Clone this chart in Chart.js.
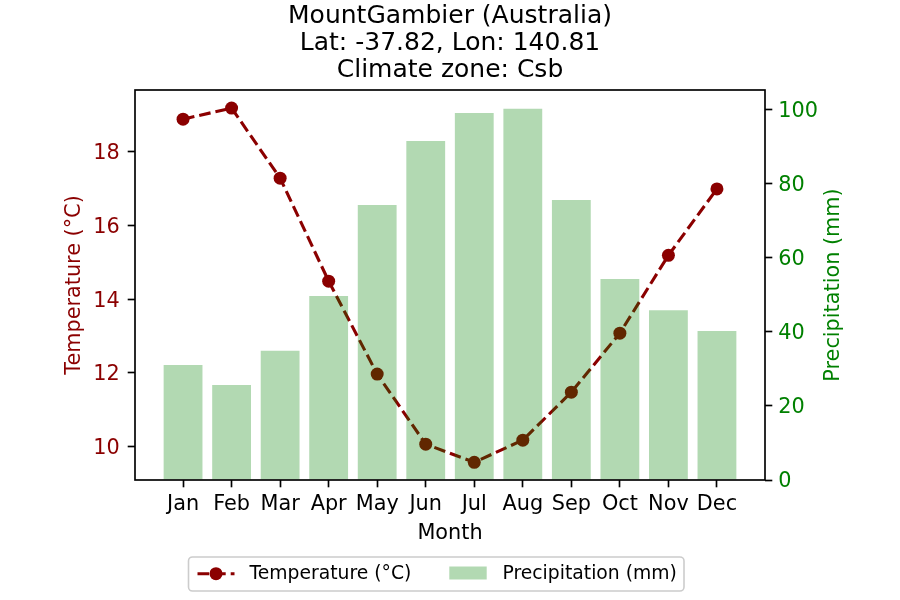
<!DOCTYPE html>
<html>
<head>
<meta charset="utf-8">
<script src="https://cdn.jsdelivr.net/npm/chart.js@4.4.1/dist/chart.umd.min.js"></script>
<style>
html,body{margin:0;padding:0;background:#ffffff;}
canvas{display:block;}
</style>
</head>
<body>
<canvas id="c" width="900" height="600"></canvas>
<script>
// ---- data ----
const months = ['Jan','Feb','Mar','Apr','May','Jun','Jul','Aug','Sep','Oct','Nov','Dec'];
const temperature = [18.88, 19.18, 17.28, 14.49, 11.97, 10.07, 9.58, 10.18, 11.48, 13.08, 15.19, 16.99];
const precipitation = [31.1, 25.7, 34.9, 49.7, 74.3, 91.6, 99.2, 100.3, 75.7, 54.3, 45.9, 40.3];
const tempTicks = [10, 12, 14, 16, 18];
const precipTicks = [0, 20, 40, 60, 80, 100];
const titleLines = ['MountGambier (Australia)', 'Lat: -37.82, Lon: 140.81', 'Climate zone: Csb'];
const tempLabel = 'Temperature (°C)';
const precipLabel = 'Precipitation (mm)';
const xLabel = 'Month';

// ---- styles ----
const FAM = '"DejaVu Sans", sans-serif';
const tickFont = {family: FAM, size: 20.8, lineHeight: 1.2};
const DARKRED = '#8b0000';
const GREEN = '#008000';
const BARCOL = 'rgba(0,128,0,0.3)';
const DASH = [11.6, 5];
Chart.defaults.color = '#000';
Chart.defaults.font.family = FAM;

const monthIndex = months.map((m, i) => i);

const framePlugin = {
  id: 'frameAndLegend',
  afterDraw(chart) {
    const ctx = chart.ctx;
    const a = chart.chartArea;
    ctx.save();
    // axes frame
    ctx.strokeStyle = '#000';
    ctx.lineWidth = 1.67;
    ctx.strokeRect(a.left, a.top, a.right - a.left, a.bottom - a.top);
    // right axis title (reads bottom-to-top)
    ctx.save();
    ctx.fillStyle = GREEN;
    ctx.font = '20.8px ' + FAM;
    ctx.textAlign = 'center';
    ctx.textBaseline = 'middle';
    ctx.translate(chart.scales.y1.right - 66.2, (a.top + a.bottom) / 2);
    ctx.rotate(-Math.PI / 2);
    ctx.fillText(precipLabel, 0, 0);
    ctx.restore();
    // legend
    const lx = 188.5, ly = 557, lw = 495.5, lh = 34, r = 4;
    ctx.beginPath();
    ctx.roundRect(lx, ly, lw, lh, r);
    ctx.fillStyle = 'rgba(255,255,255,0.8)';
    ctx.fill();
    ctx.strokeStyle = '#cccccc';
    ctx.lineWidth = 1.6;
    ctx.stroke();
    const cy = 573.7;
    // temperature handle
    ctx.beginPath();
    ctx.setLineDash(DASH);
    ctx.strokeStyle = DARKRED;
    ctx.lineWidth = 3.1;
    ctx.moveTo(197.5, cy);
    ctx.lineTo(234.5, cy);
    ctx.stroke();
    ctx.setLineDash([]);
    ctx.beginPath();
    ctx.arc(216, cy, 6.5, 0, Math.PI * 2);
    ctx.fillStyle = DARKRED;
    ctx.fill();
    ctx.font = '18.75px ' + FAM;
    ctx.textAlign = 'left';
    ctx.textBaseline = 'middle';
    ctx.fillStyle = '#000';
    ctx.fillText(tempLabel, 249.5, cy);
    // precipitation handle
    ctx.fillStyle = BARCOL;
    ctx.fillRect(449.3, 566.5, 37.4, 13);
    ctx.fillStyle = '#000';
    ctx.fillText(precipLabel, 502.5, cy);
    ctx.restore();
  }
};

new Chart(document.getElementById('c'), {
  type: 'bar',
  data: {
    datasets: [
      {
        type: 'bar',
        label: precipLabel,
        data: monthIndex.map(i => ({x: i, y: precipitation[i]})),
        yAxisID: 'y1',
        xAxisID: 'x',
        backgroundColor: BARCOL,
        borderWidth: 0,
        barPercentage: 0.8,
        categoryPercentage: 1.0,
        order: 0
      },
      {
        type: 'line',
        label: tempLabel,
        data: monthIndex.map(i => ({x: i, y: temperature[i]})),
        yAxisID: 'y',
        xAxisID: 'x',
        borderColor: DARKRED,
        borderWidth: 3.1,
        borderDash: DASH,
        pointRadius: 6.5,
        pointHoverRadius: 6.5,
        pointBackgroundColor: DARKRED,
        pointBorderWidth: 0,
        tension: 0,
        fill: false,
        order: 1
      }
    ]
  },
  options: {
    responsive: false,
    animation: false,
    devicePixelRatio: 1,
    layout: {padding: 0},
    plugins: {
      legend: {display: false},
      tooltip: {enabled: false},
      title: {
        display: true,
        text: titleLines,
        color: '#000',
        font: {family: FAM, size: 25, weight: 'normal', lineHeight: 1.072},
        padding: {top: 3, bottom: 6.6}
      }
    },
    scales: {
      x: {
        type: 'linear',
        position: 'bottom',
        min: -0.99,
        max: 11.99,
        offset: false,
        afterBuildTicks: s => { s.ticks = monthIndex.map(v => ({value: v})); },
        ticks: {
          callback: v => months[v],
          color: '#000',
          font: tickFont,
          padding: 5.2,
          autoSkip: false,
          maxRotation: 0,
          minRotation: 0
        },
        grid: {drawOnChartArea: false, offset: false, drawTicks: true, tickLength: 7.3, tickWidth: 1.67, tickColor: '#000'},
        border: {display: false},
        title: {display: true, text: xLabel, color: '#000', font: tickFont, padding: {top: 0, bottom: 54.4}},
        afterFit: s => { s.height = 120; }
      },
      y: {
        type: 'linear',
        position: 'left',
        min: 9.10,
        max: 19.67,
        afterBuildTicks: s => { s.ticks = tempTicks.map(v => ({value: v})); },
        ticks: {color: DARKRED, font: tickFont, padding: 8, labelOffset: 2},
        grid: {drawOnChartArea: false, drawTicks: true, tickLength: 7.3, tickWidth: 1.67, tickColor: '#000'},
        border: {display: false},
        title: {display: true, text: tempLabel, color: DARKRED, font: tickFont, padding: {top: 62, bottom: 0}},
        afterFit: s => { s.width = 135; }
      },
      y1: {
        type: 'linear',
        position: 'right',
        min: 0,
        max: 105.4,
        afterBuildTicks: s => { s.ticks = precipTicks.map(v => ({value: v})); },
        ticks: {color: GREEN, font: tickFont, padding: 6, labelOffset: 2},
        grid: {drawOnChartArea: false, drawTicks: true, tickLength: 7.3, tickWidth: 1.67, tickColor: '#000'},
        border: {display: false},
        afterFit: s => { s.width = 135; }
      }
    }
  },
  plugins: [framePlugin]
});
</script>
</body>
</html>
